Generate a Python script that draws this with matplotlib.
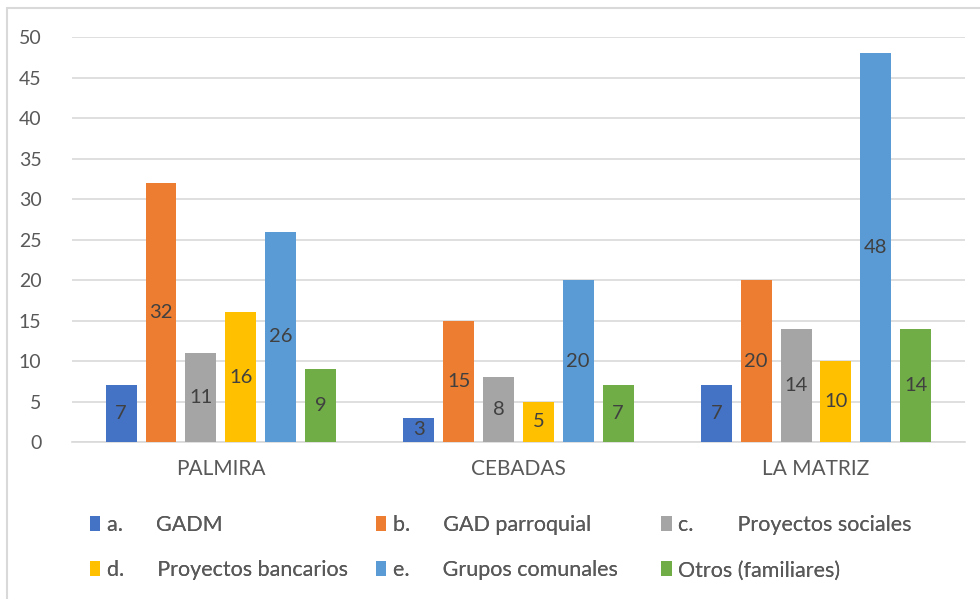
import numpy as np
import matplotlib.pyplot as plt
from matplotlib.patches import Rectangle

plt.rcParams['font.family'] = ['Lato', 'DejaVu Sans']

# Data
parroquias = ['PALMIRA', 'CEBADAS', 'LA MATRIZ']
series = ['a.      GADM', 'b.      GAD parroquial', 'c.        Proyectos sociales',
          'd.      Proyectos bancarios', 'e.      Grupos comunales', 'Otros (familiares)']
gadm = [7, 3, 7]
gad_parroquial = [32, 15, 20]
proy_sociales = [11, 8, 14]
proy_bancarios = [16, 5, 10]
grupos_comunales = [26, 20, 48]
otros = [9, 7, 14]
valores = [gadm, gad_parroquial, proy_sociales, proy_bancarios, grupos_comunales, otros]
colores = ['#4472C4', '#ED7D31', '#A5A5A5', '#FFC000', '#5B9BD5', '#70AD47']

fig = plt.figure(figsize=(9.8, 5.99), dpi=100)
ax = fig.add_axes([0.0735, 0.262, 0.911, 0.676])

x = np.arange(len(parroquias))
paso = 0.134
ancho = 0.104
for i, (vals, col, nombre) in enumerate(zip(valores, colores, series)):
    pos = x + (i - 2.5) * paso
    barras = ax.bar(pos, vals, ancho, color=col, label=nombre, zorder=3)
    ax.bar_label(barras, label_type='center', fontsize=14.5, color='#404040')

ax.set_xlim(-0.5, 2.5)
ax.set_ylim(0, 50)
ax.set_yticks(range(0, 51, 5))
ax.set_xticks(x)
ax.set_xticklabels(parroquias, fontsize=15)
ax.grid(axis='y', color='#D9D9D9', linewidth=1.2, zorder=0)
for s in ['top', 'right', 'left']:
    ax.spines[s].set_visible(False)
ax.spines['bottom'].set_color('#D9D9D9')
ax.spines['bottom'].set_linewidth(1.2)
ax.tick_params(axis='both', length=0, colors='#595959')
ax.tick_params(axis='y', labelsize=14, pad=22)
ax.tick_params(axis='x', pad=12)

# Legend: three columns, filled row by row like Excel
handles, labels = ax.get_legend_handles_labels()
col_x = [0.076, 0.368, 0.659]
for c in range(3):
    idx = [c, c + 3]
    leg = fig.legend([handles[k] for k in idx], [labels[k] for k in idx],
                     loc='upper left', bbox_to_anchor=(col_x[c], 0.166),
                     frameon=False, fontsize=15.5, labelcolor='#595959',
                     handlelength=0.5, handleheight=0.7, handletextpad=0.3,
                     labelspacing=1.2, borderpad=0.2)
    fig.add_artist(leg)

# chart border
fig.patches.append(Rectangle((0.007, -0.01), 1.1, 0.997, transform=fig.transFigure,
                             fill=False, edgecolor='#D9D9D9', linewidth=1.5))

fig.savefig('out.png', dpi=100)
